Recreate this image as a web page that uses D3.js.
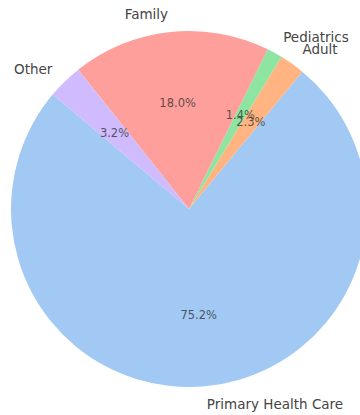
<!DOCTYPE html>
<html>
<head>
<meta charset="utf-8">
<script src="https://cdn.jsdelivr.net/npm/d3@7"></script>
<style>
  html, body { margin: 0; padding: 0; background: #fff; }
  svg { display: block; }
</style>
</head>
<body>
<svg id="chart" width="360" height="415"></svg>
<script>
// Share of visits by department (percent)
const categories = ["Primary Health Care", "Adult", "Pediatrics", "Family", "Other"];
const values = [75.2, 2.3, 1.4, 18.0, 3.2];
const colors = ["#a1c9f4", "#ffb482", "#8de5a1", "#ff9f9b", "#d0bbff"];

const cx = 189, cy = 209, radius = 178;

const svg = d3.select("#chart");
const g = svg.append("g").attr("transform", `translate(${cx},${cy})`);

// Slices run counter-clockwise, the first one starting 140° from the +x axis
const startDeg = 140;
const toRad = Math.PI / 180;
const a0 = (90 - startDeg) * toRad;
const pie = d3.pie()
  .sort(null)
  .value(d => d.value)
  .startAngle(a0)
  .endAngle(a0 - 2 * Math.PI);

const data = categories.map((c, i) => ({ name: c, value: values[i], color: colors[i] }));
const arcs = pie(data);

const arc = d3.arc().innerRadius(0).outerRadius(radius);
const labelArc = d3.arc().innerRadius(radius * 1.1).outerRadius(radius * 1.1);
const pctArc = d3.arc().innerRadius(radius * 0.6).outerRadius(radius * 0.6);

g.selectAll("path.slice")
  .data(arcs)
  .join("path")
  .attr("class", "slice")
  .attr("d", arc)
  .attr("fill", d => d.data.color);

g.selectAll("text.label")
  .data(arcs)
  .join("text")
  .attr("class", "label")
  .attr("x", d => labelArc.centroid(d)[0])
  .attr("y", d => labelArc.centroid(d)[1])
  .attr("text-anchor", d => labelArc.centroid(d)[0] > 0 ? "start" : "end")
  .attr("dominant-baseline", "central")
  .attr("font-family", "DejaVu Sans, sans-serif")
  .attr("font-size", 13.5)
  .attr("fill", "#444")
  .text(d => d.data.name);

g.selectAll("text.pct")
  .data(arcs)
  .join("text")
  .attr("class", "pct")
  .attr("x", d => pctArc.centroid(d)[0])
  .attr("y", d => pctArc.centroid(d)[1])
  .attr("text-anchor", "middle")
  .attr("dominant-baseline", "central")
  .attr("font-family", "DejaVu Sans, sans-serif")
  .attr("font-size", 11.5)
  .attr("fill", "#333")
  .attr("fill-opacity", 0.8)
  .text(d => d.data.value.toFixed(1) + "%");
</script>
</body>
</html>
